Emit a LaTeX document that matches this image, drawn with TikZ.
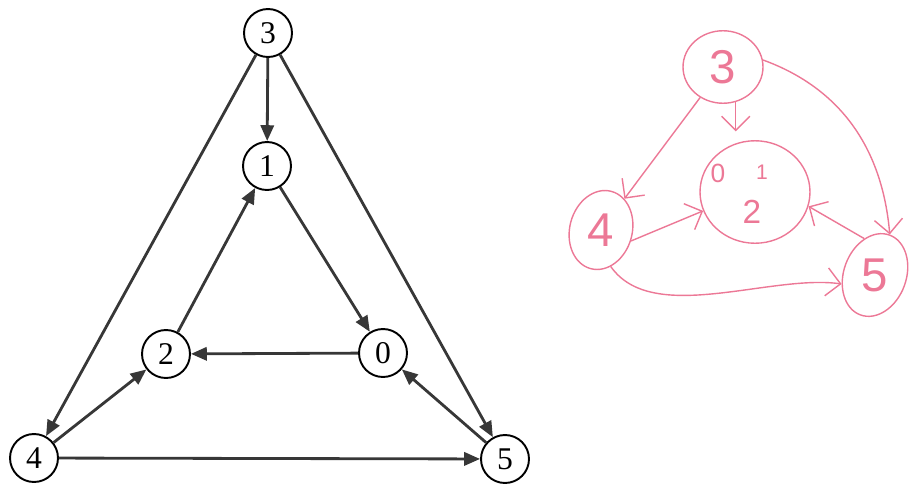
\documentclass[tikz,border=0pt]{standalone}
\usepackage{fontspec}
\setmainfont{Liberation Serif}
\newfontfamily\sketchfont{Liberation Sans}
\usetikzlibrary{positioning, arrows.meta, shapes.geometric}

\definecolor{edgegray}{RGB}{55,55,55}
\definecolor{sketchpink}{RGB}{236,120,150}

\begin{document}
\begin{tikzpicture}[
		x=0.02cm, y=-0.02cm,
		vertex/.style={draw, circle, line width=1.1pt, minimum size=0.96cm, inner sep=0pt, font=\fontsize{18}{18}\selectfont},
		edge/.style={draw=edgegray, line width=1.6pt, -{Triangle[length=9pt,width=7.5pt]}},
		sketch/.style={draw=sketchpink, ellipse, line width=0.8pt, text=sketchpink, inner sep=0pt, font=\sketchfont\fontsize{27}{27}\selectfont},
		mark label/.style={text=sketchpink, inner sep=0pt, font=\sketchfont\fontsize{15}{15}\selectfont},
		stroke/.style={draw=sketchpink, line width=0.8pt, -{Straight Barb[length=8pt,width=16pt]}}
	]
	\useasboundingbox (0,0) rectangle (917,484);

	% Grafo de la izquierda
	\node[vertex] (n3) at (268,33) {3};
	\node[vertex] (n1) at (267,166) {1};
	\node[vertex] (n2) at (166,354) {2};
	\node[vertex] (n0) at (383,353) {0};
	\node[vertex] (n4) at (34,458) {4};
	\node[vertex] (n5) at (505,459) {5};

	% Aristas
	\draw[edge] (n3) -- (n1);
	\draw[edge] (n3) -- (n4);
	\draw[edge] (n3) -- (n5);
	\draw[edge] (n1) -- (n0);
	\draw[edge] (n0) -- (n2);
	\draw[edge] (n2) -- (n1);
	\draw[edge] (n4) -- (n2);
	\draw[edge] (n4) -- (n5);
	\draw[edge] (n5) -- (n0);

	% Boceto de la derecha
	\node[sketch, minimum width=1.6cm, minimum height=1.45cm] (s3) at (723,67) {3};
	\node[sketch, minimum width=1.25cm, minimum height=1.6cm, rotate=-15] (s4) at (601,230) {\rotatebox{15}{4}};
	\node[sketch, minimum width=2.2cm, minimum height=2.05cm] (blob) at (755,192) {};
	\node[sketch, minimum width=1.25cm, minimum height=1.7cm, rotate=-20] (s5) at (875,275) {\rotatebox{20}{5}};
	\node[mark label] (b0) at (718,173) {0};
	\node[mark label, font=\sketchfont\fontsize{12}{12}\selectfont] (b1) at (762,172) {1};
	\node[mark label, font=\sketchfont\fontsize{19}{19}\selectfont] (b2) at (752,212) {2};

	\draw[stroke] (s3) -- (s4);
	\draw[stroke, shorten >=5pt] (s3.-70) -- (s3.-70 |- blob.north);
	\draw[stroke] (s3.10) to[out=-20, in=95] (s5.north);
	\draw[stroke] (s4.-5) -- (blob.200);
	\draw[stroke] (s4.-60) to[out=-55, in=172, looseness=0.8] (s5.215);
	\draw[stroke] (s5.north west) -- (blob.-15);

\end{tikzpicture}
\end{document}
